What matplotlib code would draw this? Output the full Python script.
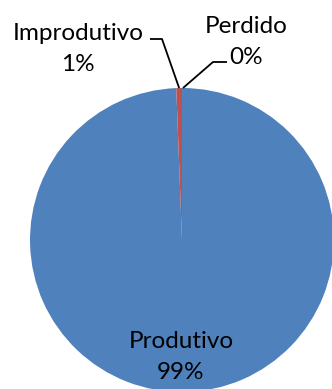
import numpy as np
import matplotlib
matplotlib.use("Agg")
import matplotlib.pyplot as plt

categories = ["Produtivo", "Improdutivo", "Perdido"]
values = [99.4, 0.6, 0.0]
colors = ["#4F81BD", "#C0504D", "#9BBB59"]

W, H = 332, 389
fig = plt.figure(figsize=(W / 100, H / 100), dpi=100)
ax = fig.add_axes([0, 0, 1, 1])

cx, cy, r = 182, H - 240, 152
wedges, _ = ax.pie(values, colors=colors, startangle=90, counterclock=False,
                   center=(cx, cy), radius=r, wedgeprops=dict(linewidth=0))
ax.set_xlim(0, W)
ax.set_ylim(0, H)
ax.set_aspect("equal")
ax.axis("off")

total = sum(values)
pct = [f"{round(v / total * 100):.0f}%" for v in values]
font = dict(family=["Lato", "DejaVu Sans"], fontsize=17.5, color="black",
            ha="center", va="center", linespacing=1.55)

# label inside the main slice
ax.text(cx - 1, H - 357, f"{categories[0]}\n{pct[0]}", **font)

# small slices: labels outside with leader lines to the rim
def rim_point(w):
    ang = np.deg2rad((w.theta1 + w.theta2) / 2)
    return cx + r * np.cos(ang), cy + r * np.sin(ang)

px, py = rim_point(wedges[1])
ax.text(78, H - 49, f"{categories[1]}\n{pct[1]}", **font)
ax.plot([150, 162, px], [H - 39, H - 39, py], color="black", lw=1.3,
        solid_capstyle="butt")

qx, qy = rim_point(wedges[2])
ax.text(246, H - 42, f"{categories[2]}\n{pct[2]}", **font)
ax.plot([qx + 1, 213, 227], [qy, H - 62, H - 62], color="black", lw=1.3,
        solid_capstyle="butt")

fig.savefig("out.png", dpi=100)
